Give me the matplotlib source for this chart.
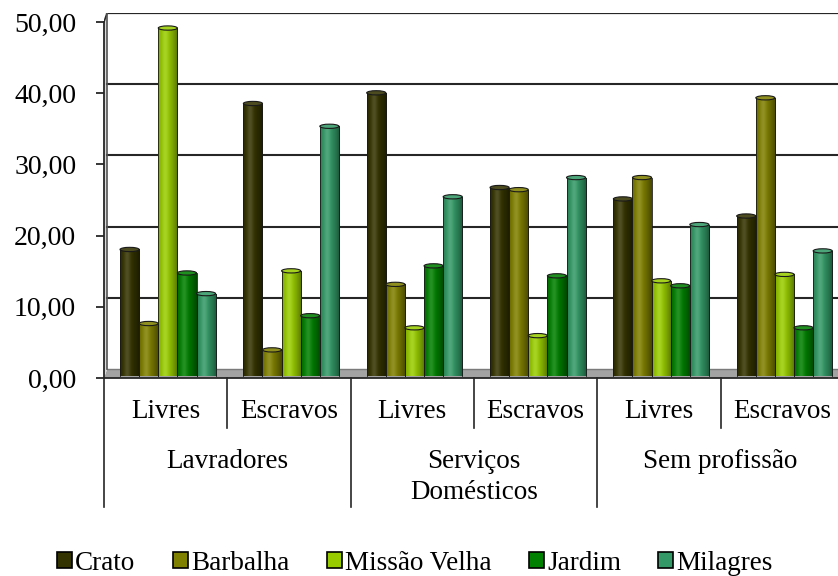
import numpy as np
import matplotlib
matplotlib.use("Agg")
import matplotlib.pyplot as plt
from matplotlib.patches import Rectangle, Ellipse, Polygon, Patch
from matplotlib.lines import Line2D
import matplotlib.transforms as mtransforms

plt.rcParams['font.family'] = ['Liberation Serif', 'DejaVu Serif']

# dados
grupos = ["Lavradores", "Serviços\nDomésticos", "Sem profissão"]
subgrupos = ["Livres", "Escravos", "Livres", "Escravos", "Livres", "Escravos"]
series = ["Crato", "Barbalha", "Missão Velha", "Jardim", "Milagres"]
cores = ["#333300", "#808000", "#99cc00", "#008000", "#339966"]

crato = [17.7, 38.2, 39.7, 26.4, 24.8, 22.4]
barbalha = [7.3, 3.6, 12.8, 26.1, 27.8, 39.0]
missao_velha = [48.8, 14.7, 6.7, 5.6, 13.3, 14.2]
jardim = [14.4, 8.4, 15.4, 14.0, 12.6, 6.7]
milagres = [11.5, 35.0, 25.1, 27.8, 21.2, 17.5]
valores = [crato, barbalha, missao_velha, jardim, milagres]

W, H = 838, 576
fs = 19.5
fig = plt.figure(figsize=(W / 100, H / 100), dpi=100)
ax = fig.add_axes([104 / W, (H - 378) / H, 740 / W, 365 / H])
ytop = 51.26
ax.set_xlim(0, 6)
ax.set_ylim(0, ytop)

prof = 1.25      # deslocamento da parede do fundo (3D)
dx = 0.025
base = 0.35
larg = 0.155
inicio = 0.13

# chao e parede
ax.add_patch(Polygon([(0, 0), (dx, prof), (6.2, prof), (6.2, 0)], closed=True,
                     facecolor="#a3a3a3", edgecolor="none", zorder=1))
ax.plot([dx, 6.2], [prof, prof], color="#7a7a7a", lw=1, zorder=1.5)
ax.add_patch(Polygon([(0, 0), (dx, prof), (dx, ytop), (0, ytop - prof)], closed=True,
                     facecolor="#d9d9d9", edgecolor="none", zorder=1))
ax.plot([dx, dx], [prof, ytop], color="#555555", lw=1.2, zorder=1.5)

# grade no fundo
for v in [10, 20, 30, 40]:
    ax.plot([dx, 6.2], [v + prof, v + prof], color="#262626", lw=1.5, zorder=1.2)
ax.plot([dx, 6.2], [ytop - 0.05, ytop - 0.05], color="#262626", lw=1.6, zorder=1.2)
ax.plot([0, dx], [ytop - prof, ytop], color="#262626", lw=1.2, zorder=1.2)

t = np.linspace(0, 1, 80)
luz = np.exp(-((t - 0.36) / 0.16) ** 2)
sombra = np.clip(np.abs(t - 0.36) / 0.64, 0, 1) ** 1.6

for k, (vals, cor) in enumerate(zip(valores, cores)):
    c = np.array(matplotlib.colors.to_rgb(cor))
    rgb = c[None, :] * (1 - 0.45 * sombra[:, None]) + (1 - c[None, :]) * 0.14 * luz[:, None]
    img = np.clip(rgb, 0, 1)[None, :, :]
    tampa = np.clip(c + (1 - c) * 0.12, 0, 1)
    for i, v in enumerate(vals):
        x0 = i + inicio + k * larg
        r = Rectangle((x0, base), larg, v, facecolor="none", edgecolor="none")
        ax.add_patch(r)
        im = ax.imshow(img, extent=[x0, x0 + larg, base, base + v], aspect="auto",
                       zorder=3, interpolation="bilinear")
        im.set_clip_path(r)
        ax.plot([x0, x0], [base, base + v], color="#1a1a1a", lw=0.6, zorder=3.5)
        ax.plot([x0 + larg, x0 + larg], [base, base + v], color="#1a1a1a", lw=0.6, zorder=3.5)
        ax.add_patch(Ellipse((x0 + larg / 2, base + v), larg, 0.6, facecolor=tampa,
                             edgecolor="#1a1a1a", lw=0.8, zorder=4))

ax.set_xlim(0, 6)
ax.set_ylim(0, ytop)

for s in ["top", "right"]:
    ax.spines[s].set_visible(False)
ax.spines["left"].set_bounds(0, ytop - prof)
ax.spines["left"].set_color("#262626")
ax.spines["bottom"].set_color("#262626")
ax.spines["left"].set_linewidth(1.3)
ax.spines["bottom"].set_linewidth(1.3)

ax.set_yticks([0, 10, 20, 30, 40, 50])
ax.set_yticklabels([f"{v:.2f}".replace(".", ",") for v in [0, 10, 20, 30, 40, 50]])
ax.tick_params(axis="y", direction="out", length=6, width=1.3, pad=14,
               labelsize=fs + 0.5, color="#262626")
ax.set_xticks([])

# rotulos do eixo x
tr = mtransforms.blended_transform_factory(ax.transData, fig.transFigure)
for i, s in enumerate(subgrupos):
    ax.text(i + 0.5, (H - 411) / H, s, transform=tr, ha="center", va="center",
            fontsize=fs)
for j, g in enumerate(grupos):
    y = 477 if "\n" in g else 461
    ax.text(2 * j + 1, (H - y) / H, g, transform=tr, ha="center", va="center",
            fontsize=fs, linespacing=1.3)
for xi in range(7):
    yb = 507 if xi % 2 == 0 else 428
    ax.add_line(Line2D([xi, xi], [(H - 378) / H, (H - yb) / H], transform=tr,
                       color="#262626", lw=1.2, clip_on=False))

handles = [Patch(facecolor=c, edgecolor="black", lw=1.2) for c in cores]
fig.legend(handles, series, loc="center", bbox_to_anchor=(415 / W, (H - 563) / H),
           ncol=5, frameon=False, fontsize=fs, handlelength=0.55, handleheight=0.55,
           handletextpad=0.12, columnspacing=1.38, borderaxespad=0)

fig.savefig("out.png", dpi=100)
